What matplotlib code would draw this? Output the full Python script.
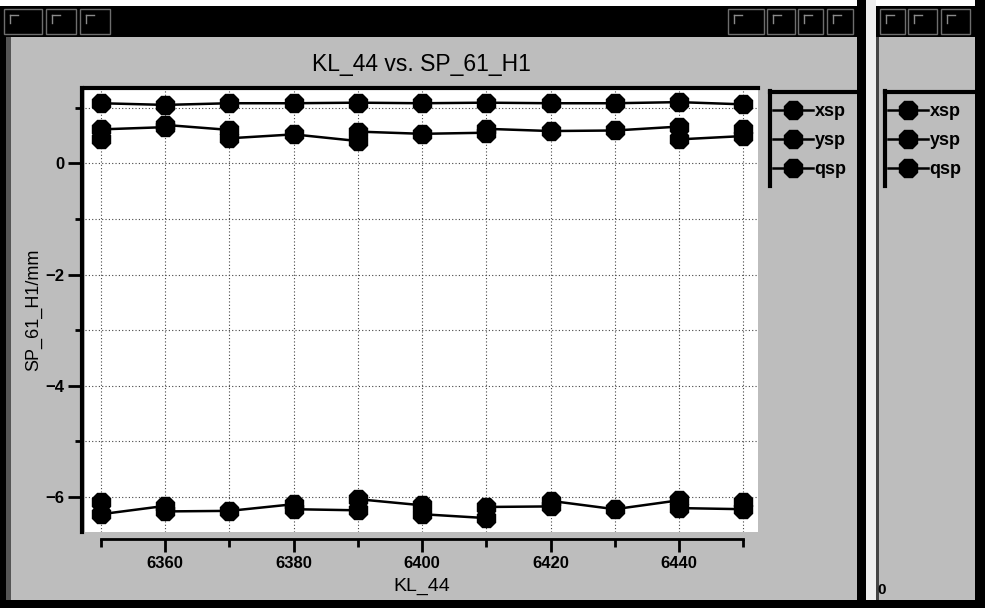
import matplotlib
matplotlib.use('Agg')
import matplotlib.pyplot as plt
from matplotlib.lines import Line2D
from matplotlib.patches import Rectangle

plt.rcParams['font.family'] = ['Liberation Sans', 'DejaVu Sans']

W, H = 985, 608   # canvas size in pixels

# KL_44 scan positions; repeated readings share one x value
xsp_x = [6350, 6360, 6370, 6380, 6390, 6400, 6410, 6420, 6430, 6440, 6450]
xsp_y = [1.08, 1.05, 1.08, 1.08, 1.09, 1.08, 1.09, 1.08, 1.08, 1.10, 1.06]

ysp_x = [6350, 6350, 6360, 6360, 6370, 6370, 6380, 6390, 6390, 6400,
         6410, 6410, 6420, 6430, 6440, 6440, 6450, 6450]
ysp_y = [0.44, 0.61, 0.65, 0.69, 0.60, 0.45, 0.52, 0.40, 0.57, 0.53,
         0.55, 0.62, 0.58, 0.59, 0.66, 0.43, 0.49, 0.61]

qsp_x = [6350, 6350, 6360, 6360, 6370, 6380, 6380, 6390, 6390, 6400,
         6400, 6410, 6410, 6420, 6420, 6430, 6440, 6440, 6450, 6450]
qsp_y = [-6.09, -6.31, -6.16, -6.26, -6.25, -6.13, -6.22, -6.24, -6.04, -6.15,
         -6.31, -6.38, -6.18, -6.17, -6.07, -6.22, -6.06, -6.20, -6.22, -6.09]

series_names = ['xsp', 'ysp', 'qsp']
x_major = [6360, 6380, 6400, 6420, 6440]
x_minor = [6350, 6370, 6390, 6410, 6430, 6450]
y_major = [0, -2, -4, -6]
y_minor = [1, -1, -3, -5]

title = 'KL_44 vs. SP_61_H1'
xlabel = 'KL_44'
ylabel = 'SP_61_H1/mm'

BG = '#bdbdbd'


def fx(x):
    return x / W


def fy(y):
    return 1 - y / H


fig = plt.figure(figsize=(W / 100, H / 100), dpi=100, facecolor=BG)


def box(x0, y0, x1, y1, **kw):
    fig.add_artist(Rectangle((fx(x0), fy(y1)), (x1 - x0) / W, (y1 - y0) / H,
                             transform=fig.transFigure, **kw))


def seg(xs, ys, **kw):
    fig.add_artist(Line2D([fx(v) for v in xs], [fy(v) for v in ys],
                          transform=fig.transFigure, **kw))


# window frames
box(0, 0, W, 6, color='white', lw=0)
box(0, 6, 866, 37, color='black', lw=0)
box(876, 6, W, 37, color='black', lw=0)
box(0, 37, 6, H, color='black', lw=0)
box(6, 37, 11, H, color='#555555', lw=0)
box(857, 0, 866, H, color='black', lw=0)
box(866, 0, 876, H, color='#eeeeee', lw=0)
box(876, 37, 879, H, color='#444444', lw=0)
box(975, 0, W, H, color='black', lw=0)
box(0, 600, W, H, color='black', lw=0)

# title bar buttons
for x0, x1 in [(4, 42), (46, 76), (80, 110), (728, 764), (767, 795),
               (798, 823), (827, 853), (880, 905), (908, 937), (941, 970)]:
    box(x0, 9, x1, 34, fill=False, ec='#6e6e6e', lw=1)
    seg([x0 + 6, x0 + 14], [15, 15], color='#8a8a8a', lw=1)
    seg([x0 + 6, x0 + 6], [15, 23], color='#8a8a8a', lw=1)

# plot area
ax = fig.add_axes([fx(85), fy(532), (758 - 85) / W, (532 - 88) / H])
ax.set_facecolor('white')

style = dict(color='black', marker='8', markersize=14.5, linewidth=1.8)
ax.plot(xsp_x, xsp_y, **style)
ax.plot(ysp_x, ysp_y, **style)
ax.plot(qsp_x, qsp_y, **style)

ax.set_xlim(6347.5, 6452.3)
ax.set_ylim(-6.63, 1.354)

ax.set_xticks(x_major)
ax.set_xticks(x_minor, minor=True)
ax.set_yticks(y_major)
ax.set_yticks(y_minor, minor=True)

grid = dict(color='#444444', linestyle=(0, (1, 2)), linewidth=0.8)
ax.grid(True, which='both', **grid)
ax.set_axisbelow(True)

ax.spines['right'].set_visible(False)
ax.spines['top'].set_linewidth(3)
ax.spines['left'].set_linewidth(3)
ax.spines['left'].set_position(('outward', 2))
ax.spines['bottom'].set_linewidth(2)
ax.spines['bottom'].set_position(('outward', 5))
ax.spines['bottom'].set_bounds(6350, 6450)

ax.tick_params(axis='x', which='major', direction='out', length=9, width=2,
               pad=3, labelsize=12)
ax.tick_params(axis='x', which='minor', direction='out', length=6, width=2)
ax.tick_params(axis='y', which='major', direction='out', length=10, width=2,
               pad=3, labelsize=12)
ax.tick_params(axis='y', which='minor', direction='out', length=5, width=2)
for lab in ax.get_xticklabels() + ax.get_yticklabels():
    lab.set_fontweight('bold')

ax.set_title(title, fontsize=16.5, pad=12)
ax.set_xlabel(xlabel, fontsize=14, labelpad=5)
ax.set_ylabel(ylabel, fontsize=13, labelpad=2)

# legends, one per window
handles = [Line2D([], [], **style) for _ in series_names]
for lx, rx in [(770, 858), (885, 975)]:
    fig.legend(handles, series_names, loc='upper left',
               bbox_to_anchor=(fx(lx + 3), fy(103)), frameon=False,
               prop={'size': 13, 'weight': 'bold'}, handlelength=2.2,
               handletextpad=0.1, labelspacing=0.66, borderpad=0,
               borderaxespad=0)
    seg([lx, lx], [91, 186], color='black', lw=3)
    seg([lx, rx], [92, 92], color='black', lw=3)

fig.text(fx(877), fy(590), '0', fontsize=11, fontweight='bold', va='center')

fig.savefig('out.png', dpi=100, facecolor=BG)
